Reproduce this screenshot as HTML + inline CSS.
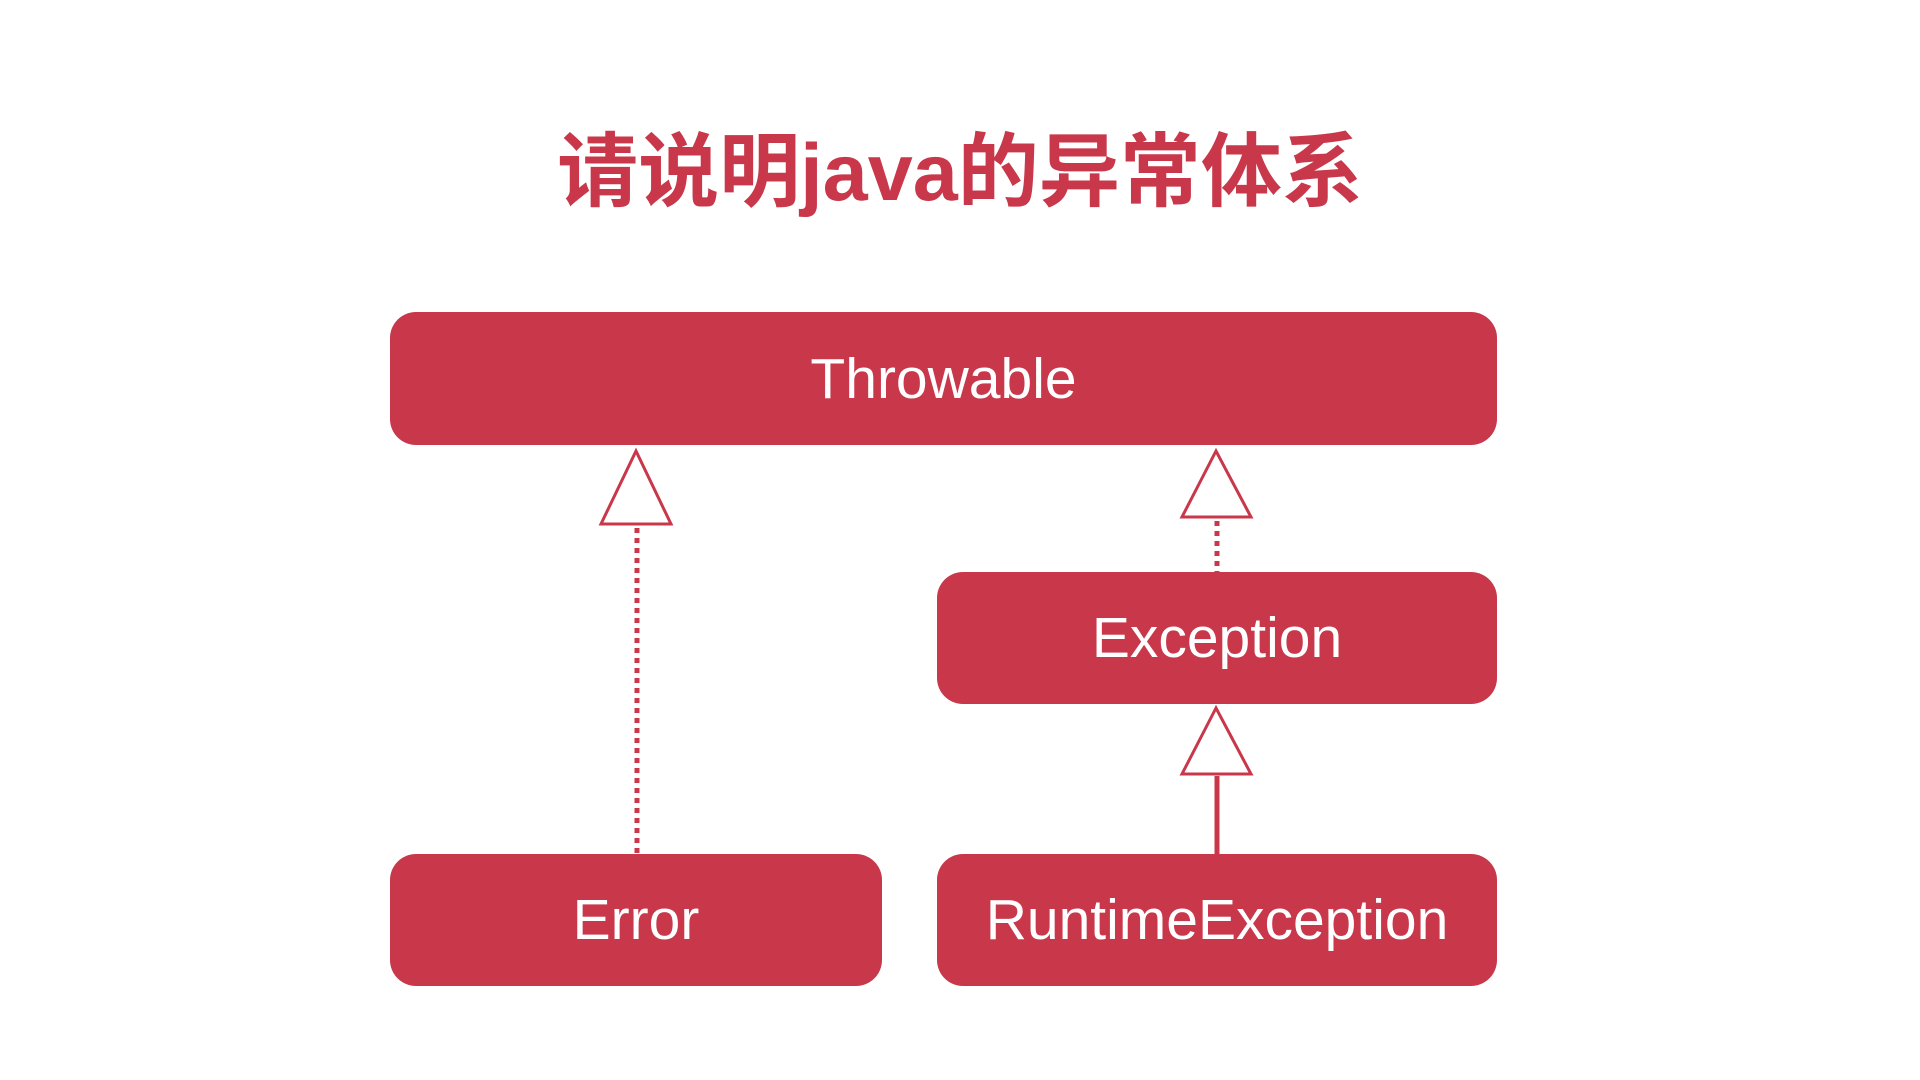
<!DOCTYPE html>
<html><head><meta charset="utf-8"><style>
body{margin:0;width:1920px;height:1080px;background:#fff;position:relative;overflow:hidden;font-family:"Liberation Sans","DejaVu Sans",sans-serif}
.t{position:absolute;left:0;width:1920px;top:123px;text-align:center;font-size:81px;font-weight:bold;color:#c8374a;font-family:"Liberation Sans","Noto Sans CJK SC",sans-serif;line-height:100px}
.b{position:absolute;background:#c8374a;border-radius:26px;color:#fff;font-size:57px;display:flex;align-items:center;justify-content:center}
</style></head><body>
<div class="t">请说明java的异常体系</div>
<div class="b" style="left:390px;top:312px;width:1107px;height:133px">Throwable</div>
<div class="b" style="left:937px;top:572px;width:560px;height:132px">Exception</div>
<div class="b" style="left:390px;top:854px;width:492px;height:132px">Error</div>
<div class="b" style="left:937px;top:854px;width:560px;height:132px">RuntimeException</div>
<svg width="1920" height="1080" style="position:absolute;left:0;top:0">
<g fill="#fff" stroke="#c8374a" stroke-width="3">
<polygon points="636,451 601,524 671,524"/>
<polygon points="1216,451 1182,517 1251,517"/>
<polygon points="1216,708 1182,774 1251,774"/>
</g>
<g stroke="#c8374a" stroke-width="5">
<line x1="637" y1="528" x2="637" y2="854" stroke-dasharray="5,5"/>
<line x1="1217" y1="521" x2="1217" y2="572" stroke-dasharray="5,5"/>
<line x1="1217" y1="776" x2="1217" y2="854"/>
</g>
</svg>
</body></html>
